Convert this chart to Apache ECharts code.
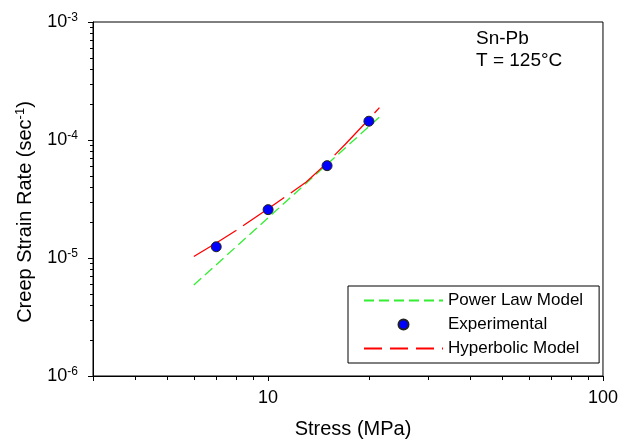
<!DOCTYPE html>
<html><head><meta charset="utf-8">
<script src="https://cdn.jsdelivr.net/npm/echarts@6/dist/echarts.min.js"></script>
<style>html,body{margin:0;padding:0;background:#fff}#c{width:621px;height:444px}</style>
</head><body><div id="c"></div>
<script>
// ---- data ----
const expStress = [7, 10, 15, 20];
const expRate = [1.245e-5, 2.57e-5, 6.06e-5, 1.443e-4];
const powerStress = [6, 10, 15, 20, 22];
const powerRate = [5.9e-6, 2.19e-5, 6.22e-5, 1.30e-4, 1.663e-4];
const hypStress = [6, 7, 8, 10, 13, 15, 17, 20, 21.5];
const hypRate = [1.03e-5, 1.34e-5, 1.70e-5, 2.61e-5, 4.40e-5, 6.40e-5, 9.2e-5, 1.5e-4, 1.88e-4];
const xRange = [3, 100];
const yRange = [1e-6, 1e-3];
const xMinorTicks = [3, 4, 5, 6, 7, 8, 9, 20, 30, 40, 50, 60, 70, 80, 90];
const yMinorTicks = [2e-6, 3e-6, 4e-6, 5e-6, 6e-6, 7e-6, 8e-6, 9e-6,
                     2e-5, 3e-5, 4e-5, 5e-5, 6e-5, 7e-5, 8e-5, 9e-5,
                     2e-4, 3e-4, 4e-4, 5e-4, 6e-4, 7e-4, 8e-4, 9e-4];
const seriesNames = ['Power Law Model', 'Experimental', 'Hyperbolic Model'];
const annotation = 'Sn-Pb\nT = 125°C';
const xTitle = 'Stress (MPa)';

const FONT = 'Liberation Sans, Arial, Helvetica, sans-serif';
const zip = (a, b) => a.map((v, i) => [v, b[i]]);

const chart = echarts.init(document.getElementById('c'), null, {renderer: 'canvas'});
chart.setOption({
  animation: false,
  backgroundColor: '#fff',
  textStyle: {fontFamily: FONT},
  title: {
    text: annotation, left: 476, top: 28, padding: 0,
    textStyle: {fontSize: 19, fontWeight: 'normal', color: '#000', lineHeight: 22, fontFamily: FONT}
  },
  grid: {left: 93, right: 16, top: 22, bottom: 64, show: true, borderColor: '#000', borderWidth: 1, backgroundColor: 'transparent'},
  legend: {
    orient: 'vertical', left: 348, top: 286,
    data: [
      {name: seriesNames[0], itemStyle: {opacity: 0}},
      {name: seriesNames[1], icon: 'circle'},
      {name: seriesNames[2], lineStyle: {type: [18, 8]}, itemStyle: {opacity: 0}}
    ],
    backgroundColor: '#fff', borderColor: '#000', borderWidth: 1,
    padding: [6, 16, 6, 15], itemGap: 7, itemWidth: 79, itemHeight: 10,
    textStyle: {fontSize: 17, color: '#000', fontFamily: FONT, lineHeight: 17},
    selectedMode: false
  },
  xAxis: {
    type: 'log', logBase: 10, min: xRange[0], max: xRange[1],
    name: xTitle, nameLocation: 'middle', nameGap: 43,
    nameTextStyle: {fontSize: 20, color: '#000', fontFamily: FONT, padding: [0, 0, 0, 10]},
    axisLine: {lineStyle: {color: '#000', width: 1}},
    axisTick: {show: true, length: 5, lineStyle: {color: '#000'}},
    splitLine: {show: false},
    axisLabel: {
      margin: 13, fontSize: 18, color: '#000', fontFamily: FONT,
      formatter: v => { const e = Math.log10(v); return Math.abs(e - Math.round(e)) < 1e-6 ? String(Math.round(v)) : ''; }
    }
  },
  yAxis: {
    type: 'log', logBase: 10, min: yRange[0], max: yRange[1],
    name: '{a|Creep Strain Rate (sec}{s|-1}{a|)}', nameLocation: 'middle', nameGap: 57,
    nameTextStyle: {
      color: '#000', padding: [0, 26, 0, 0],
      rich: {a: {fontSize: 20, fontFamily: FONT, color: '#000'}, s: {fontSize: 13, fontFamily: FONT, color: '#000', padding: [0, 0, 9, 0]}}
    },
    axisLine: {show: true, lineStyle: {color: '#000', width: 1}},
    axisTick: {show: true, length: 5, lineStyle: {color: '#000'}},
    splitLine: {show: false},
    axisLabel: {
      margin: 15, color: '#000',
      formatter: v => '{b|10}{s|' + Math.round(Math.log10(v)) + '}',
      rich: {b: {fontSize: 18, fontFamily: FONT, color: '#000'}, s: {fontSize: 12, fontFamily: FONT, color: '#000', padding: [0, 0, 9, 0]}}
    }
  },
  series: [
    {
      name: seriesNames[0], type: 'line', symbol: 'none', data: zip(powerStress, powerRate),
      lineStyle: {color: '#33ee33', width: 1.3, type: [10, 5]}, itemStyle: {color: '#33ee33'}, z: 3
    },
    {
      name: seriesNames[2], type: 'line', symbol: 'none', data: zip(hypStress, hypRate),
      lineStyle: {color: '#ff0000', width: 1.3, type: [50, 8]}, itemStyle: {color: '#ff0000'}, z: 4
    },
    {
      name: seriesNames[1], type: 'scatter', data: zip(expStress, expRate), symbol: 'circle', symbolSize: 10,
      itemStyle: {color: '#0000ff', borderColor: '#222', borderWidth: 1, opacity: 1}, z: 5
    },
    {
      type: 'custom', silent: true, z: 6, data: xMinorTicks.map(v => [v, yRange[0]]),
      renderItem: (params, api) => {
        const p = api.coord([api.value(0), api.value(1)]);
        const x = Math.round(p[0]) + 0.5;
        return {type: 'line', shape: {x1: x, y1: p[1], x2: x, y2: p[1] + 4}, style: {stroke: '#000', lineWidth: 1}};
      }
    },
    {
      type: 'custom', silent: true, z: 6, data: yMinorTicks.map(v => [xRange[0], v]),
      renderItem: (params, api) => {
        const p = api.coord([api.value(0), api.value(1)]);
        const y = Math.round(p[1]) + 0.5;
        return {type: 'line', shape: {x1: p[0] - 3, y1: y, x2: p[0], y2: y}, style: {stroke: '#000', lineWidth: 1}};
      }
    }
  ]
});
</script>
</body></html>
